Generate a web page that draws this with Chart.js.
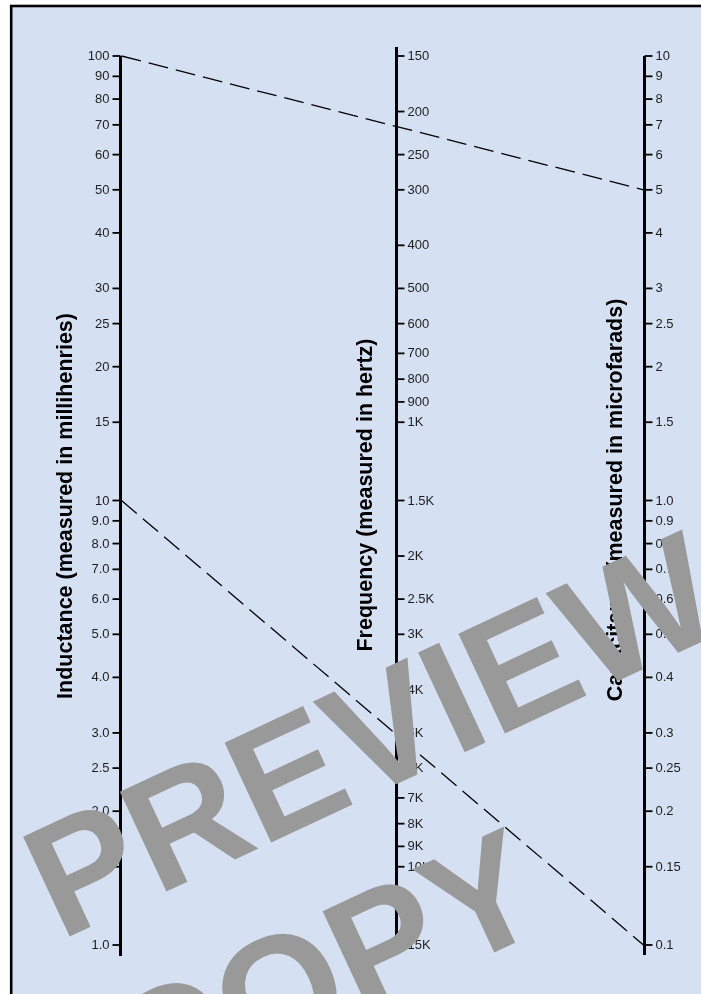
<!DOCTYPE html>
<html>
<head>
<meta charset="utf-8">
<script src="https://cdn.jsdelivr.net/npm/chart.js@4.4.1/dist/chart.umd.min.js"></script>
<style>
    html, body { margin: 0; padding: 0; background: #fff; overflow: hidden; }
    #wrap { width: 701px; height: 994px; position: relative; }
</style>
</head>
<body>
<div id="wrap"><canvas id="nomograph"></canvas></div>
<script>
// inductance scale (millihenries)
const inductanceTicks = [100, 90, 80, 70, 60, 50, 40, 30, 25, 20, 15, 10, 9, 8, 7, 6, 5, 4, 3, 2.5, 2, 1.5, 1];
const inductanceLabels = ['100', '90', '80', '70', '60', '50', '40', '30', '25', '20', '15', '10',
    '9.0', '8.0', '7.0', '6.0', '5.0', '4.0', '3.0', '2.5', '2.0', '1.5', '1.0'];

// frequency scale (hertz)
const frequencyTicks = [150, 200, 250, 300, 400, 500, 600, 700, 800, 900, 1000, 1500, 2000, 2500,
    3000, 4000, 5000, 6000, 7000, 8000, 9000, 10000, 15000];
const frequencyLabels = ['150', '200', '250', '300', '400', '500', '600', '700', '800', '900', '1K',
    '1.5K', '2K', '2.5K', '3K', '4K', '5K', '6K', '7K', '8K', '9K', '10K', '15K'];

// capacitance scale (microfarads)
const capacitanceTicks = [10, 9, 8, 7, 6, 5, 4, 3, 2.5, 2, 1.5, 1, 0.9, 0.8, 0.7, 0.6, 0.5, 0.4,
    0.3, 0.25, 0.2, 0.15, 0.1];
const capacitanceLabels = ['10', '9', '8', '7', '6', '5', '4', '3', '2.5', '2', '1.5', '1.0', '0.9',
    '0.8', '0.7', '0.6', '0.5', '0.4', '0.3', '0.25', '0.2', '0.15', '0.1'];

// example readings drawn as dashed lines: [inductance, capacitance]
const keyLines = [[100, 5], [10, 0.1]];

(function(){
    const axes = [
        { scale: 'yL', at: 0, side: -1, ticks: inductanceTicks, labels: inductanceLabels,
          extTop: 0, extBottom: 11, title: 'Inductance (measured in millihenries)', titleX: 72, titleY: 506 },
        { scale: 'yF', at: 0.527, side: 1, ticks: frequencyTicks, labels: frequencyLabels,
          extTop: 9, extBottom: 10, title: 'Frequency (measured in hertz)', titleX: 372, titleY: 495 },
        { scale: 'yC', at: 1, side: 1, ticks: capacitanceTicks, labels: capacitanceLabels,
          extTop: 0, extBottom: 10, title: 'Capacitance (measured in microfarads)', titleX: 622, titleY: 500 }
    ];

    const textFont = '"Liberation Sans", Arial, Helvetica, sans-serif';

    function axisX(chart, ax) {
        return Math.round(chart.scales.x.getPixelForValue(ax.at)) + 0.5;
    }

    const nomographPlugin = {
        id: 'nomograph',
        beforeDraw(chart) {
            const ctx = chart.ctx;
            ctx.save();
            ctx.fillStyle = '#ffffff';
            ctx.fillRect(0, 0, chart.width, chart.height);
            ctx.fillStyle = '#d5e1f2';
            ctx.fillRect(11, 6, chart.width, chart.height);
            ctx.strokeStyle = '#000';
            ctx.lineWidth = 2.6;
            ctx.strokeRect(11.2, 6, chart.width + 20, chart.height + 20);
            ctx.restore();
        },
        afterDraw(chart) {
            const ctx = chart.ctx;
            ctx.save();

            axes.forEach(function(ax){
                const ys = chart.scales[ax.scale];
                const x = axisX(chart, ax);
                const px = ax.ticks.map(v => ys.getPixelForValue(v));
                const top = Math.min(...px) - ax.extTop;
                const bottom = Math.max(...px) + ax.extBottom;

                // axis line
                ctx.strokeStyle = '#000';
                ctx.lineWidth = 3;
                ctx.beginPath();
                ctx.moveTo(x, top);
                ctx.lineTo(x, bottom);
                ctx.stroke();

                // tick marks + labels
                ctx.lineWidth = 1.8;
                ctx.font = '13px ' + textFont;
                ctx.fillStyle = '#1e1e1e';
                ctx.textBaseline = 'middle';
                ctx.textAlign = ax.side < 0 ? 'right' : 'left';
                px.forEach(function(y, i){
                    ctx.beginPath();
                    ctx.moveTo(x, y);
                    ctx.lineTo(x + ax.side * 8, y);
                    ctx.stroke();
                    ctx.fillText(ax.labels[i], x + ax.side * 11, y + 0.5);
                });

                // rotated title
                ctx.save();
                ctx.translate(ax.titleX, ax.titleY);
                ctx.rotate(-Math.PI / 2);
                ctx.font = 'bold 21.5px ' + textFont;
                ctx.fillStyle = '#000';
                ctx.textAlign = 'center';
                ctx.textBaseline = 'alphabetic';
                ctx.fillText(ax.title, 0, 0);
                ctx.restore();
            });

            // dashed key lines, inductance -> capacitance
            const yL = chart.scales.yL, yC = chart.scales.yC;
            ctx.strokeStyle = '#000';
            ctx.lineWidth = 1.3;
            ctx.setLineDash([20, 8]);
            keyLines.forEach(function(k){
                ctx.beginPath();
                ctx.moveTo(axisX(chart, axes[0]) + 1, yL.getPixelForValue(k[0]));
                ctx.lineTo(axisX(chart, axes[2]) - 1, yC.getPixelForValue(k[1]));
                ctx.stroke();
            });
            ctx.setLineDash([]);

            // preview watermark
            ctx.save();
            ctx.translate(60, 941);
            ctx.rotate(-25 * Math.PI / 180);
            ctx.font = 'bold 160px ' + textFont;
            ctx.fillStyle = '#999999';
            ctx.textAlign = 'left';
            ctx.textBaseline = 'alphabetic';
            ctx.fillText('PREVIEW', 0, 0);
            ctx.fillText('COPY', 0, 194);
            ctx.restore();

            ctx.restore();
        }
    };

    let ctx = document.getElementById('nomograph');
    let nomographChart = new Chart(ctx, {
        type: 'scatter',
        data: { datasets: [] },
        options: {
            responsive: true,
            maintainAspectRatio: false,
            animation: false,
            layout: {
                padding: { left: 120, right: 57, top: 56, bottom: 49 }
            },
            plugins: {
                legend: { display: false },
                tooltip: { enabled: false }
            },
            scales: {
                x: { type: 'linear', min: 0, max: 1, display: false },
                yL: { type: 'logarithmic', position: 'left', min: 1, max: 100, display: false },
                yF: { type: 'logarithmic', position: 'left', min: 150, max: 15000, reverse: true, display: false },
                yC: { type: 'logarithmic', position: 'right', min: 0.1, max: 10, display: false }
            }
        },
        plugins: [nomographPlugin]
    });
})();
</script>
</body>
</html>
